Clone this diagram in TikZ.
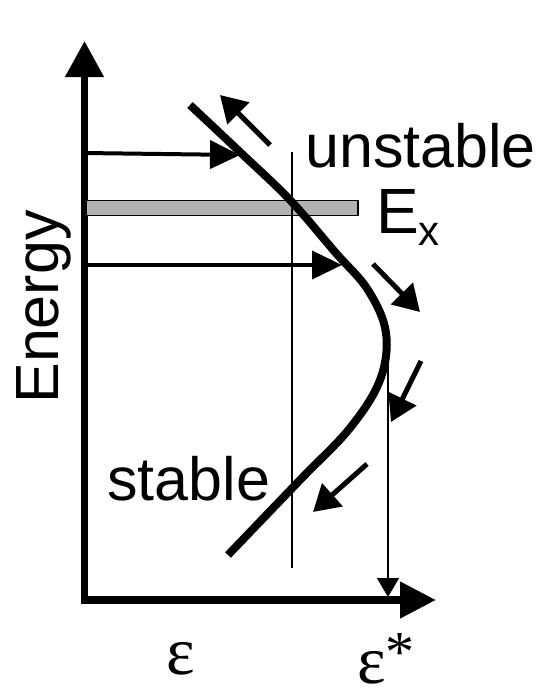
\documentclass[tikz,border=0pt]{standalone}
\usepackage{fontspec}
\setmainfont{Liberation Sans}
\newfontfamily\seriffont{Liberation Serif}
\usetikzlibrary{arrows.meta}
\tikzset{
  axis/.style={line width=7.5pt},
  bigarrow/.style={line width=4pt,-{Triangle[length=30pt,width=28pt]}},
  smallarrow/.style={line width=5pt,-{Triangle[length=26pt,width=30pt]}},
  thin/.style={line width=1.6pt},
  lbl/.style={inner sep=0pt,font=\fontsize{61}{70}\selectfont},
  eps/.style={inner sep=0pt,text depth=0pt,font=\seriffont\fontsize{68}{78}\selectfont}
}
\begin{document}
\begin{tikzpicture}[x=1pt,y=-1pt]
\useasboundingbox (0,0) rectangle (549,694);
% axes
\coordinate (O) at (84.5,600);
\coordinate (Ytip) at (84.5,41);
\coordinate (Xtip) at (436,600);
\draw[axis,-{Triangle[length=36pt,width=37pt]}] ([yshift=-3.7pt]O) -- (Ytip);
\draw[axis,-{Triangle[length=36pt,width=35pt]}] ([xshift=-3.7pt]O) -- (Xtip);
% gray bar
\node[draw=black,fill=gray!60,line width=1.5pt,minimum width=272pt,minimum height=15pt,inner sep=0pt,anchor=west] (bar) at (85,208) {};
% thin vertical line
\coordinate (v1t) at (292,152);
\coordinate (v1b) at (292,568);
\draw[thin] (v1t) -- (v1b);
% curve
\draw[line width=8pt] plot[smooth,tension=0.6] coordinates {(190,105) (240,152) (290,200) (335,252) (368,290) (386,333) (380,380) (350,428) (300,480) (228,555)};
% horizontal arrows from axis
\coordinate (h1s) at (84,153);
\coordinate (h1e) at (240,155);
\draw[bigarrow] (h1s) -- (h1e);
\coordinate (h2s) at (84,265);
\coordinate (h2e) at (342,265);
\draw[bigarrow] (h2s) -- (h2e);
% small direction arrows
\coordinate (a1s) at (270,145); \coordinate (a1e) at (220,95);
\draw[smallarrow] (a1s) -- (a1e);
\coordinate (a2s) at (373,264); \coordinate (a2e) at (420,312);
\draw[smallarrow] (a2s) -- (a2e);
\coordinate (a3s) at (421,361); \coordinate (a3e) at (391,422);
\draw[smallarrow] (a3s) -- (a3e);
\coordinate (a4s) at (367,464); \coordinate (a4e) at (313,512);
\draw[smallarrow] (a4s) -- (a4e);
% thin arrow down to epsilon*
\coordinate (v2t) at (388,358);
\coordinate (v2b) at (388,597);
\draw[thin,-{Triangle[length=19pt,width=22pt]}] (v2t) -- (v2b);
% labels
\node[lbl,anchor=base west] (unst) at (305,167) {unstable};
\node[inner sep=0pt,anchor=base west,font=\fontsize{64}{70}\selectfont] (ex) at (376,233) {E\fontsize{42}{50}\selectfont\raisebox{-12pt}{x}};
\node[lbl,anchor=base west] (stab) at (107,500) {stable};
\node[lbl,rotate=90,anchor=base] (en) at (58,307) {Energy};
\node[eps,anchor=base] (e1) at (181,674) {ε};
\node[eps,anchor=base west] (e2) at (357,683) {ε\fontsize{58}{58}\selectfont\raisebox{12pt}{*}};
\end{tikzpicture}
\end{document}
